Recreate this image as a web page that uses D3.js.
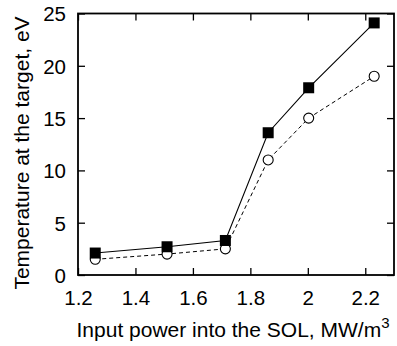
<!DOCTYPE html>
<html><head><meta charset="utf-8">
<script src="https://cdn.jsdelivr.net/npm/d3@7"></script>
<style>body{margin:0;background:#fff}svg{display:block}text{font-family:"Liberation Sans",Arial,sans-serif;fill:#000}</style>
</head><body><svg id="c" width="397" height="346"></svg>
<script>
const power = [1.26, 1.51, 1.713, 1.862, 2.003, 2.231];
const tempSquares = [2.1, 2.7, 3.3, 13.6, 17.9, 24.1];
const tempCircles = [1.5, 2.0, 2.5, 11.0, 15.0, 19.0];
const xTicks = [1.2, 1.4, 1.6, 1.8, 2, 2.2];
const yTicks = [0, 5, 10, 15, 20, 25];

const m = {l:78, r:394, t:13.5, b:275};
const svg = d3.select("#c");
const x = d3.scaleLinear().domain([1.2, 2.3]).range([m.l, m.r]);
const y = d3.scaleLinear().domain([0, 25]).range([m.b, m.t]);
const fsTick = 20.5, fsTitle = 21;

const axB = svg.append("g").attr("transform",`translate(0,${m.b})`)
  .call(d3.axisBottom(x).tickValues(xTicks).tickSizeInner(-7).tickSizeOuter(0).tickFormat(d3.format("")));
const axT = svg.append("g").attr("transform",`translate(0,${m.t})`)
  .call(d3.axisTop(x).tickValues(xTicks).tickSizeInner(-7).tickSizeOuter(0).tickFormat(""));
const axL = svg.append("g").attr("transform",`translate(${m.l},0)`)
  .call(d3.axisLeft(y).tickValues(yTicks).tickSizeInner(-7).tickSizeOuter(0).tickPadding(12));
const axR = svg.append("g").attr("transform",`translate(${m.r},0)`)
  .call(d3.axisRight(y).tickValues(yTicks).tickSizeInner(-7).tickSizeOuter(0).tickFormat(""));
[axB,axT,axL,axR].forEach(a=>{
  a.select(".domain").remove();
  a.selectAll(".tick line").attr("stroke","#000").attr("stroke-width",1.3);
  a.selectAll("text").attr("font-size",fsTick).attr("font-family","Liberation Sans, Arial, sans-serif").attr("fill","#000");
});
axB.selectAll("text").attr("y",30).attr("dy",0);
axL.selectAll("text").attr("dy","0.36em");

svg.append("rect").attr("x",m.l).attr("y",m.t).attr("width",m.r-m.l).attr("height",m.b-m.t)
  .attr("fill","none").attr("stroke","#000").attr("stroke-width",1.8);

const line = d3.line().x(d=>x(d[0])).y(d=>y(d[1]));
const circ = power.map((p,i)=>[p,tempCircles[i]]);
const sq = power.map((p,i)=>[p,tempSquares[i]]);

svg.append("path").datum(circ).attr("d",line).attr("fill","none").attr("stroke","#000")
  .attr("stroke-width",1).attr("stroke-dasharray","4,3");
svg.selectAll("circle.o").data(circ).join("circle").attr("class","o")
  .attr("cx",d=>x(d[0])).attr("cy",d=>y(d[1])).attr("r",5)
  .attr("fill","#fff").attr("stroke","#000").attr("stroke-width",1.1);

svg.append("path").datum(sq).attr("d",line).attr("fill","none").attr("stroke","#000").attr("stroke-width",1.1);
const s = 11;
svg.selectAll("rect.s").data(sq).join("rect").attr("class","s")
  .attr("x",d=>x(d[0])-s/2).attr("y",d=>y(d[1])-s/2).attr("width",s).attr("height",s).attr("fill","#000");

const xt = svg.append("text").attr("x",233).attr("y",337).attr("text-anchor","middle").attr("font-size",fsTitle);
xt.append("tspan").text("Input power into the SOL, MW/m");
xt.append("tspan").text("3").attr("font-size",15).attr("dy",-9);

svg.append("text").attr("transform","translate(29,153) rotate(-90)").attr("text-anchor","middle")
  .attr("font-size",fsTitle).text("Temperature at the target, eV");
</script>
</body></html>
